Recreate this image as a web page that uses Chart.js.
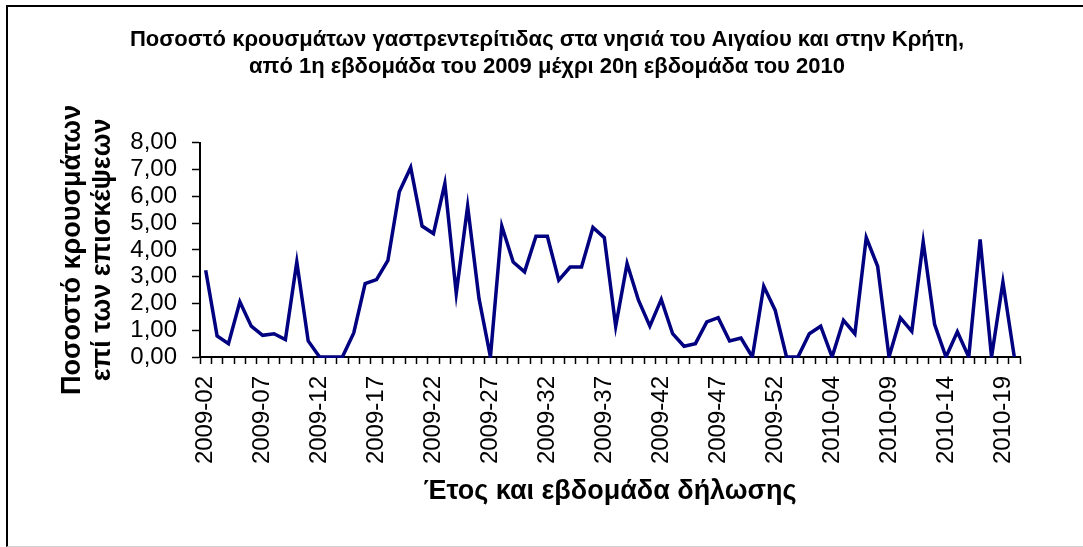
<!DOCTYPE html>
<html lang="el">

<head>
    <meta charset="UTF-8">
    <title>Ποσοστό κρουσμάτων γαστρεντερίτιδας</title>
    <script src="https://cdn.jsdelivr.net/npm/chart.js"></script>
    <style>
        body {
            margin: 0;
            padding: 0;
            background: #ffffff;
            overflow: hidden;
        }

        #wrap {
            position: relative;
            width: 1083px;
            height: 547px;
        }

        /* outer frame of the chart, right/bottom run off the picture */
        #frame {
            position: absolute;
            left: 6px;
            top: 5px;
            width: 1100px;
            height: 539px;
            border-top: 2px solid #000;
            border-left: 2px solid #000;
            border-bottom: 1px solid #d0d0d0;
            pointer-events: none;
        }

        canvas {
            position: absolute;
            left: 0;
            top: 0;
        }
    </style>
</head>

<body>
    <div id="wrap">
        <canvas id="chart" width="1083" height="547"></canvas>
        <div id="frame"></div>
    </div>

    <script>
        // weeks 2009-02 .. 2009-53 and 2010-01 .. 2010-20
        const weeks2009 = [];
        for (let w = 2; w <= 53; w++) weeks2009.push('2009-' + String(w).padStart(2, '0'));
        const weeks2010 = [];
        for (let w = 1; w <= 20; w++) weeks2010.push('2010-' + String(w).padStart(2, '0'));
        const weeks = weeks2009.concat(weeks2010);

        // % of cases per visits
        const rate2009 = [
            3.24, 0.79, 0.50, 2.06, 1.15, 0.81, 0.87, 0.65, 3.55, 0.60,
            0.00, 0.00, 0.00, 0.90, 2.74, 2.89, 3.61, 6.17, 7.08, 4.89,
            4.61, 6.48, 2.37, 5.63, 2.18, 0.00, 4.89, 3.55, 3.18, 4.51,
            4.51, 2.87, 3.36, 3.36, 4.84, 4.46, 1.15, 3.49, 2.12, 1.15,
            2.15, 0.87, 0.40, 0.50, 1.31, 1.47, 0.60, 0.71, 0.00, 2.64,
            1.75, 0.00
        ];
        const rate2010 = [
            0.00, 0.87, 1.15, 0.00, 1.37, 0.87, 4.46, 3.39, 0.00, 1.46,
            0.96, 4.30, 1.22, 0.00, 0.94, 0.00, 4.39, 0.00, 2.80, 0.00
        ];
        const rates = rate2009.concat(rate2010);

        const yTicks = [0, 1, 2, 3, 4, 5, 6, 7, 8];

        const titleLines = [
            'Ποσοστό κρουσμάτων γαστρεντερίτιδας στα νησιά του Αιγαίου και στην Κρήτη,',
            'από 1η εβδομάδα του 2009 μέχρι 20η εβδομάδα του 2010'
        ];
        const yTitle = ['Ποσοστό κρουσμάτων', 'επί των επισκέψεων'];
        const xTitle = 'Έτος και εβδομάδα δήλωσης';

        const family = '"Liberation Sans", Arial, sans-serif';

        new Chart(document.getElementById('chart'), {
            type: 'line',
            data: {
                labels: weeks,
                datasets: [{
                    data: rates,
                    borderColor: '#000080',
                    borderWidth: 3.5,
                    pointRadius: 0,
                    tension: 0,
                    // let peaks poke out, but keep the V's from going under the axis
                    clip: { left: 5, top: 5, right: 5, bottom: 1 }
                }]
            },
            options: {
                responsive: false,
                animation: false,
                // left padding is larger so the main title sits a bit right of centre, like the original
                layout: { padding: { left: 74, right: 63, top: 0, bottom: 10 } },
                plugins: {
                    legend: { display: false },
                    tooltip: { enabled: false },
                    title: {
                        display: true,
                        text: titleLines,
                        color: '#000',
                        font: { family: family, size: 22, weight: 'bold', lineHeight: 1.23 },
                        padding: { top: 26.5, bottom: 62.2 }
                    }
                },
                scales: {
                    x: {
                        type: 'category',
                        offset: true,
                        grid: { offset: true, drawOnChartArea: false, tickLength: 7, tickWidth: 1.5, tickColor: '#000' },
                        border: { color: '#000', width: 2 },
                        ticks: {
                            autoSkip: false,
                            maxRotation: 90,
                            minRotation: 90,
                            padding: 12,
                            color: '#000',
                            font: { family: family, size: 24 },
                            callback: function (v, i) { return i % 5 === 0 ? weeks[i] : ''; }
                        },
                        title: {
                            display: true,
                            text: xTitle,
                            color: '#000',
                            font: { family: family, size: 27, weight: 'bold', lineHeight: 1.2 },
                            padding: { top: 4, bottom: 28.8 }
                        },
                        afterFit: function (scale) { scale.height = 547 - 357 - 10; }
                    },
                    y: {
                        min: 0,
                        max: 8,
                        afterBuildTicks: function (scale) { scale.ticks = yTicks.map(v => ({ value: v })); },
                        grid: { drawOnChartArea: false, tickLength: 8, tickWidth: 1.5, tickColor: '#000' },
                        border: { color: '#000', width: 2 },
                        ticks: {
                            autoSkip: false,
                            padding: 15,
                            color: '#000',
                            font: { family: family, size: 24 },
                            callback: v => v.toFixed(2).replace('.', ',')
                        },
                        title: {
                            display: true,
                            text: yTitle,
                            color: '#000',
                            font: { family: family, size: 27, weight: 'bold', lineHeight: 1.11 },
                            // negative to pull the title back out to x~73
                            padding: { top: -16, bottom: 0 }
                        },
                        afterFit: function (scale) { scale.width = 126; }
                    }
                }
            }
        });
    </script>
</body>

</html>
